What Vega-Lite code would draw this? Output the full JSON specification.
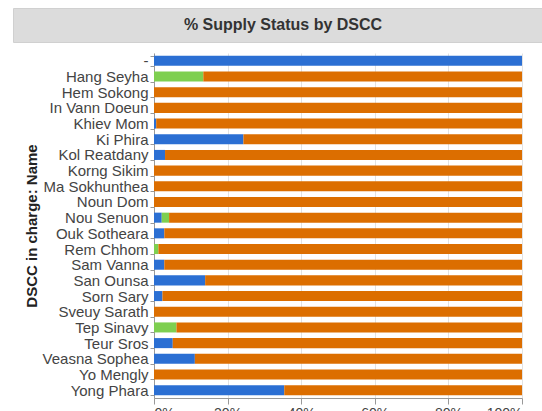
{
  "$schema": "https://vega.github.io/schema/vega-lite/v6.json",
  "padding": {"left": 12, "top": 7, "right": -10, "bottom": -4},
  "background": "white",
  "spacing": 3,
  "config": {"font": "Liberation Sans", "view": {"stroke": null}},
  "vconcat": [
    {
      "width": 540,
      "height": 34,
      "data": {"values": [{"title": "% Supply Status by DSCC"}]},
      "view": {"fill": "#dcdcdc", "stroke": "#d0d0d0"},
      "mark": {"type": "text", "fontSize": 16, "fontWeight": "bold", "color": "#333333", "baseline": "middle", "align": "center"},
      "encoding": {"text": {"field": "title"}}
    },
    {
      "width": 540,
      "height": 345,
      "data": {"values": [
        {"Name": "-", "Status": "Delivered", "Pct": 1.0},
        {"Name": "Hang Seyha", "Status": "In progress", "Pct": 0.134},
        {"Name": "Hang Seyha", "Status": "Not delivered", "Pct": 0.866},
        {"Name": "Hem Sokong", "Status": "Not delivered", "Pct": 1.0},
        {"Name": "In Vann Doeun", "Status": "Not delivered", "Pct": 1.0},
        {"Name": "Khiev Mom", "Status": "Delivered", "Pct": 0.006},
        {"Name": "Khiev Mom", "Status": "Not delivered", "Pct": 0.994},
        {"Name": "Ki Phira", "Status": "Delivered", "Pct": 0.243},
        {"Name": "Ki Phira", "Status": "Not delivered", "Pct": 0.757},
        {"Name": "Kol Reatdany", "Status": "Delivered", "Pct": 0.03},
        {"Name": "Kol Reatdany", "Status": "Not delivered", "Pct": 0.97},
        {"Name": "Korng Sikim", "Status": "Not delivered", "Pct": 1.0},
        {"Name": "Ma Sokhunthea", "Status": "Not delivered", "Pct": 1.0},
        {"Name": "Noun Dom", "Status": "Not delivered", "Pct": 1.0},
        {"Name": "Nou Senuon", "Status": "Delivered", "Pct": 0.021},
        {"Name": "Nou Senuon", "Status": "In progress", "Pct": 0.02},
        {"Name": "Nou Senuon", "Status": "Not delivered", "Pct": 0.959},
        {"Name": "Ouk Sotheara", "Status": "Delivered", "Pct": 0.028},
        {"Name": "Ouk Sotheara", "Status": "Not delivered", "Pct": 0.972},
        {"Name": "Rem Chhom", "Status": "In progress", "Pct": 0.012},
        {"Name": "Rem Chhom", "Status": "Not delivered", "Pct": 0.988},
        {"Name": "Sam Vanna", "Status": "Delivered", "Pct": 0.028},
        {"Name": "Sam Vanna", "Status": "Not delivered", "Pct": 0.972},
        {"Name": "San Ounsa", "Status": "Delivered", "Pct": 0.139},
        {"Name": "San Ounsa", "Status": "Not delivered", "Pct": 0.861},
        {"Name": "Sorn Sary", "Status": "Delivered", "Pct": 0.023},
        {"Name": "Sorn Sary", "Status": "Not delivered", "Pct": 0.977},
        {"Name": "Sveuy Sarath", "Status": "Not delivered", "Pct": 1.0},
        {"Name": "Tep Sinavy", "Status": "In progress", "Pct": 0.061},
        {"Name": "Tep Sinavy", "Status": "Not delivered", "Pct": 0.939},
        {"Name": "Teur Sros", "Status": "Delivered", "Pct": 0.051},
        {"Name": "Teur Sros", "Status": "Not delivered", "Pct": 0.949},
        {"Name": "Veasna Sophea", "Status": "Delivered", "Pct": 0.111},
        {"Name": "Veasna Sophea", "Status": "Not delivered", "Pct": 0.889},
        {"Name": "Yo Mengly", "Status": "Not delivered", "Pct": 1.0},
        {"Name": "Yong Phara", "Status": "Delivered", "Pct": 0.354},
        {"Name": "Yong Phara", "Status": "Not delivered", "Pct": 0.646}
      ]},
      "mark": {"type": "bar"},
      "encoding": {
        "y": {
          "field": "Name",
          "type": "nominal",
          "sort": ["-", "Hang Seyha", "Hem Sokong", "In Vann Doeun", "Khiev Mom", "Ki Phira", "Kol Reatdany", "Korng Sikim", "Ma Sokhunthea", "Noun Dom", "Nou Senuon", "Ouk Sotheara", "Rem Chhom", "Sam Vanna", "San Ounsa", "Sorn Sary", "Sveuy Sarath", "Tep Sinavy", "Teur Sros", "Veasna Sophea", "Yo Mengly", "Yong Phara"],
          "scale": {"paddingInner": 0.36, "paddingOuter": 0.18},
          "axis": {
            "offset": -141,
            "title": "DSCC in charge: Name",
            "titleFontSize": 15,
            "titleFontWeight": "bold",
            "titleColor": "#222222",
            "titlePadding": 3,
            "labelFontSize": 15,
            "labelColor": "#444444",
            "labelPadding": 2,
            "tickSize": 4,
            "tickBand": "extent",
            "domainColor": "#999999",
            "tickColor": "#999999",
            "grid": false
          }
        },
        "x": {
          "field": "Pct",
          "type": "quantitative",
          "stack": "zero",
          "scale": {"domain": [0, 1], "range": [141, 509]},
          "axis": {
            "title": null,
            "format": "%",
            "values": [0, 0.2, 0.4, 0.6, 0.8, 1],
            "labelFontSize": 14,
            "labelColor": "#444444",
            "labelPadding": 2,
            "tickSize": 6,
            "domainColor": "#999999",
            "tickColor": "#999999",
            "gridColor": "#e2e2e2"
          }
        },
        "color": {
          "field": "Status",
          "type": "nominal",
          "scale": {"domain": ["Delivered", "In progress", "Not delivered"], "range": ["#2b6fd3", "#7ecf50", "#dc6e00"]},
          "legend": null
        }
      }
    }
  ]
}
